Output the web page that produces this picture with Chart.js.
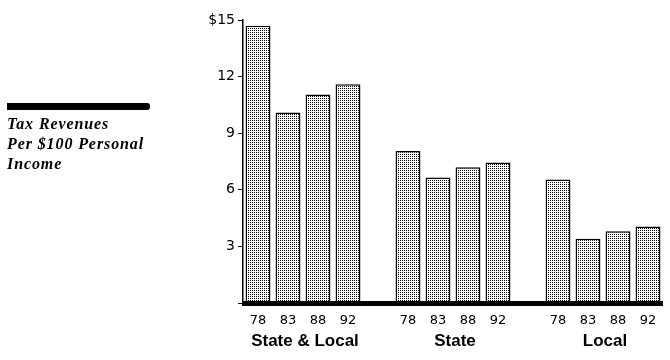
<!DOCTYPE html>
<html>
<head>
<meta charset="utf-8">
<script src="https://cdn.jsdelivr.net/npm/chart.js@4"></script>
<style>
  body { margin: 0; background: #fff; }
  #wrap { position: relative; width: 670px; height: 360px; }
  #legendBar { position: absolute; left: 7px; top: 103px; width: 143px; height: 7px; background: #000; border-radius: 0 3px 3px 0; }
  #legendText { position: absolute; left: 7px; top: 114px; font: italic bold 16px "Liberation Serif", serif; line-height: 20px; letter-spacing: 0.9px; color: #000; }
</style>
</head>
<body>
<div id="wrap">
  <canvas id="chartContainer" width="670" height="360"></canvas>
  <div id="legendBar"></div>
  <div id="legendText">Tax Revenues<br>Per $100 Personal<br>Income</div>
</div>
<script>
  // years shown under each bar, blank slots separate the groups
  let years = ['78', '83', '88', '92', '', '78', '83', '88', '92', '', '78', '83', '88', '92'];
  // tax revenues per $100 personal income
  let revenues = [14.7, 10.1, 11.05, 11.6, null, 8.05, 6.65, 7.2, 7.45, null, 6.55, 3.4, 3.8, 4.05];
  let groups = ['State & Local', 'State', 'Local'];
  let groupStart = [0, 5, 10]; // first slot of each group
  let yTicks = [0, 3, 6, 9, 12, 15];

  // dotted fill like the old print style
  function makePattern() {
    let c = document.createElement('canvas');
    c.width = 2;
    c.height = 2;
    let g = c.getContext('2d');
    g.fillStyle = '#fff';
    g.fillRect(0, 0, 2, 2);
    g.fillStyle = '#000';
    g.fillRect(0, 0, 1, 1);
    return g.createPattern(c, 'repeat');
  }

  // thick base line over the bottom of the bars + group names
  const extras = {
    id: 'extras',
    afterDatasetsDraw(chart) {
      let ctx = chart.ctx;
      let area = chart.chartArea;
      ctx.save();
      ctx.fillStyle = '#000';
      ctx.fillRect(area.left - 1, area.bottom - 2, area.right - area.left + 1, 5);
      ctx.restore();
    },
    afterDraw(chart) {
      let ctx = chart.ctx;
      let x = chart.scales.x;
      ctx.save();
      ctx.font = 'bold 17px "Liberation Sans", Arial, sans-serif';
      ctx.fillStyle = '#000';
      ctx.textAlign = 'center';
      ctx.textBaseline = 'middle';
      groups.forEach((name, i) => {
        let a = x.getPixelForValue(groupStart[i]);
        let b = x.getPixelForValue(groupStart[i] + 3);
        ctx.fillText(name, (a + b) / 2 + 2, 341);
      });
      ctx.restore();
    }
  };

  let chartContainer = document.getElementById('chartContainer');
  let chart = new Chart(chartContainer, {
    type: 'bar',
    data: {
      labels: years,
      datasets: [{
        data: revenues,
        backgroundColor: makePattern(),
        borderColor: '#000',
        borderWidth: 1.5,
        categoryPercentage: 1,
        barPercentage: 0.83
      }]
    },
    options: {
      responsive: false,
      animation: false,
      layout: { padding: { left: 0, top: 20, right: 7, bottom: 0 } },
      plugins: {
        legend: { display: false },
        tooltip: { enabled: false }
      },
      scales: {
        x: {
          offset: true,
          grid: { display: false },
          border: { display: false },
          ticks: {
            color: '#000',
            padding: 2,
            maxRotation: 0,
            autoSkip: false,
            font: { family: '"DejaVu Sans", sans-serif', size: 13 }
          },
          afterFit(scale) { scale.height = 57; }
        },
        y: {
          min: 0,
          max: 15,
          afterBuildTicks(scale) { scale.ticks = yTicks.map(v => ({ value: v })); },
          grid: { display: true, drawOnChartArea: false, drawTicks: true, tickLength: 5, color: '#000', lineWidth: 1 },
          border: { display: true, color: '#000', width: 1.5 },
          ticks: {
            color: '#000',
            padding: 3,
            font: { family: '"DejaVu Sans", sans-serif', size: 14 },
            callback(v) { return v === 0 ? '' : (v === 15 ? '$15' : String(v)); }
          },
          afterFit(scale) { scale.width = 243; }
        }
      }
    },
    plugins: [extras]
  });
</script>
</body>
</html>
